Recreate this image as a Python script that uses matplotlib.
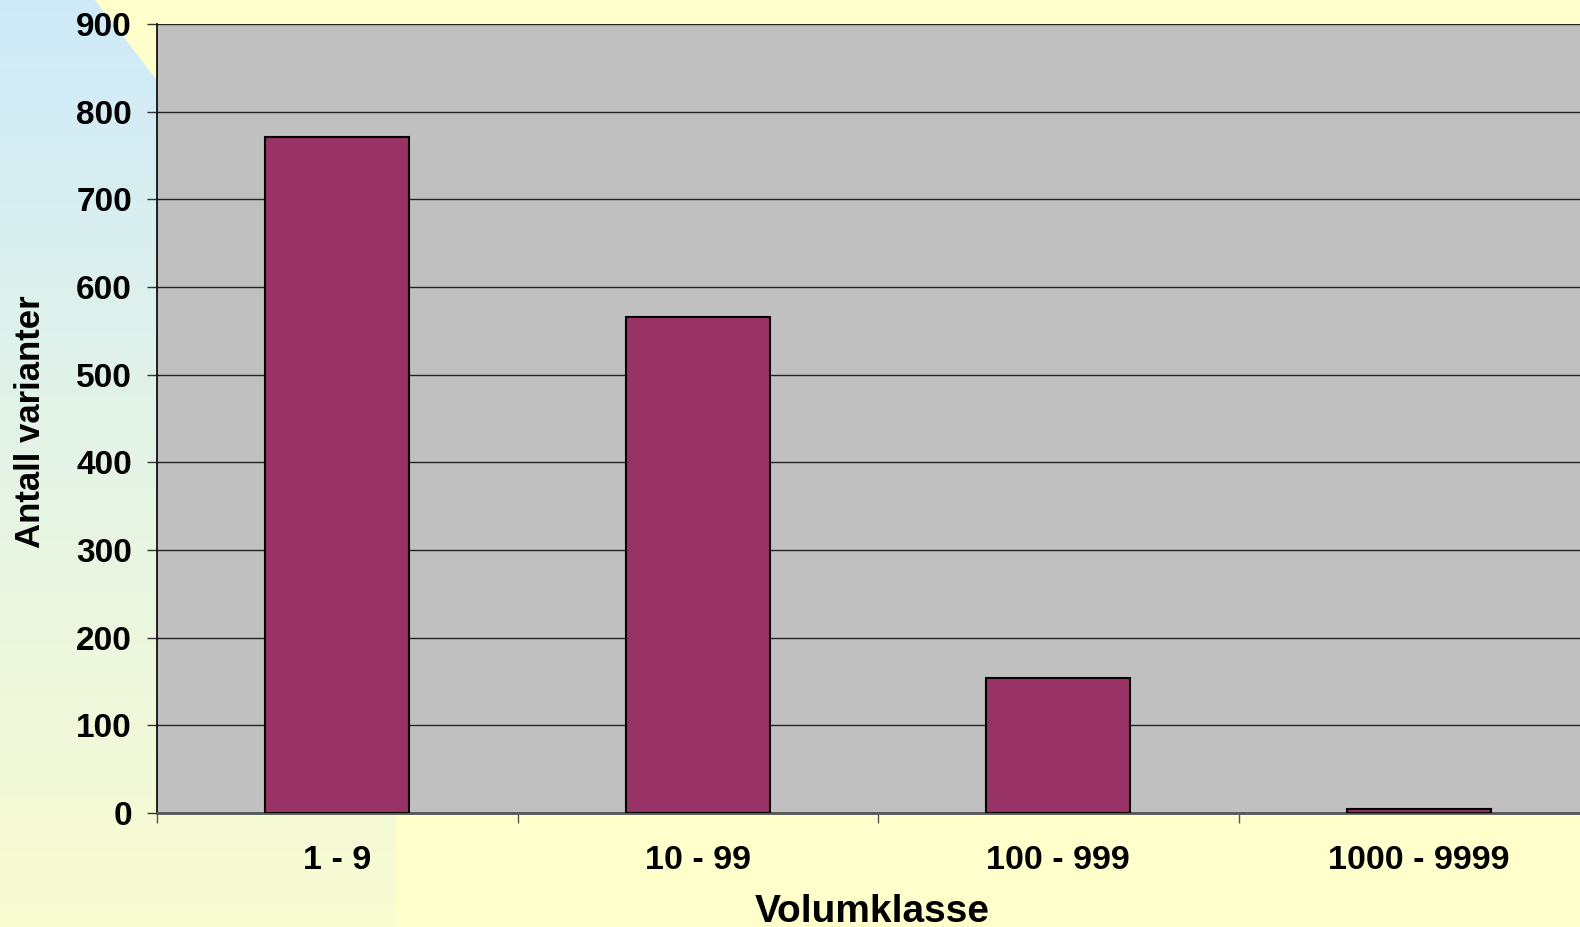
import matplotlib.pyplot as plt
import numpy as np
from matplotlib.patches import Polygon

# Data
categories = ['1 - 9', '10 - 99', '100 - 999', '1000 - 9999']
counts = [771, 566, 154, 5]

plt.rcParams['font.family'] = ['Liberation Sans', 'DejaVu Sans']
plt.rcParams['font.weight'] = 'bold'
plt.rcParams['xtick.major.pad'] = 23
plt.rcParams['ytick.major.pad'] = 11

W, H = 1580, 927
fig = plt.figure(figsize=(W / 100, H / 100), dpi=100, facecolor='#FFFFCC')

# slide background: left panel with blue -> yellow gradient
bg = fig.add_axes([0, 0, 1, 1], zorder=-10)
bg.set_xlim(0, W)
bg.set_ylim(H, 0)
bg.axis('off')
top = np.array([0.81, 0.92, 0.98])
bottom = np.array([0.98, 0.99, 0.82])
t = np.linspace(0, 1, 256)[:, None, None]
grad = top * (1 - t) + bottom * t
grad = np.repeat(grad, 2, axis=1)
im = bg.imshow(grad, extent=(0, 396, H, 0), aspect='auto')
clip = Polygon([(0, 0), (95, 0), (396, 390), (396, H), (0, H)],
               closed=True, transform=bg.transData, facecolor='none', edgecolor='none')
bg.add_patch(clip)
im.set_clip_path(clip)

# main chart
ax = fig.add_axes([157 / W, (H - 813) / H, (1599 - 157) / W, (813 - 24) / H])
ax.set_facecolor('#C0C0C0')
x = np.arange(len(categories)) + 0.5
ax.bar(x, counts, width=0.4, color='#993366', edgecolor='black', linewidth=1.5, zorder=3)

ax.set_xlim(0, 4)
ax.set_ylim(0, 900)
ax.set_yticks(np.arange(0, 901, 100))
ax.yaxis.grid(True, color='#222222', linewidth=1.0, zorder=1)
ax.set_axisbelow(True)

ax.set_xticks(x)
ax.set_xticklabels(categories, fontsize=24.5)
ax.set_xticks(np.arange(0, 5), minor=True)
ax.tick_params(axis='x', which='major', length=0, pad=23)
ax.tick_params(axis='x', which='minor', length=7, width=1, color='#555555')
ax.tick_params(axis='y', length=7, width=1, labelsize=24, color='#333333')

for s in ['top', 'right']:
    ax.spines[s].set_visible(False)
ax.spines['left'].set_color('black')
ax.spines['left'].set_linewidth(1.2)
ax.spines['bottom'].set_color('#555555')
ax.spines['bottom'].set_linewidth(2)

fig.text(31 / W, 1 - 422 / H, 'Antall varianter', rotation=90,
         ha='center', va='center', fontsize=25, fontweight='bold')
fig.text(872 / W, 1 - 912 / H, 'Volumklasse', ha='center', va='center',
         fontsize=28, fontweight='bold')

fig.savefig('out.png', dpi=100, facecolor=fig.get_facecolor())
